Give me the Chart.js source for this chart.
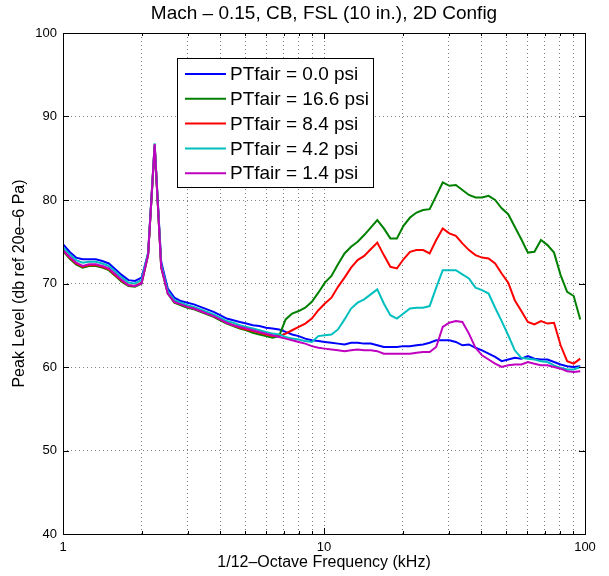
<!DOCTYPE html>
<html lang="en">
<head>
  <meta charset="utf-8">
  <title>Peak Level vs 1/12-Octave Frequency</title>
  <script src="https://cdn.jsdelivr.net/npm/chart.js@4.4.0/dist/chart.umd.min.js"></script>
  <style>
    html, body { margin: 0; padding: 0; background: #fff; }
  </style>
</head>
<body>
  <canvas id="peakChart" width="609" height="576"></canvas>

  <script>
    // 1/12-octave band centres (kHz)
    const freqKHz = [
      1.000, 1.059, 1.122, 1.189, 1.260, 1.335, 1.414, 1.498, 1.587, 1.682,
      1.782, 1.888, 2.000, 2.119, 2.245, 2.378, 2.520, 2.670, 2.828, 2.997,
      3.175, 3.364, 3.564, 3.776, 4.000, 4.238, 4.490, 4.757, 5.040, 5.339,
      5.657, 5.993, 6.350, 6.727, 7.127, 7.551, 8.000, 8.476, 8.980, 9.514,
      10.079, 10.679, 11.314, 11.986, 12.699, 13.454, 14.254, 15.102, 16.000, 16.951,
      17.959, 19.027, 20.159, 21.357, 22.627, 23.973, 25.398, 26.909, 28.509, 30.204,
      32.000, 33.903, 35.919, 38.055, 40.317, 42.715, 45.255, 47.946, 50.797, 53.817,
      57.018, 60.408, 64.000, 67.806, 71.838, 76.109, 80.635, 85.430, 90.510, 95.892
    ];

    // peak level (dB re 20e-6 Pa) per band
    const pt00 = [
      74.7, 73.8, 73.1, 72.9, 72.9, 72.9, 72.7, 72.4, 71.7, 71.0,
      70.4, 70.3, 70.7, 73.6, 86.4, 72.6, 69.4, 68.3, 67.9, 67.7,
      67.5, 67.2, 66.9, 66.6, 66.2, 65.8, 65.6, 65.4, 65.2, 65.0,
      64.9, 64.7, 64.6, 64.5, 64.2, 63.9, 63.7, 63.4, 63.2, 63.1,
      63.0, 62.9, 62.8, 62.7, 62.9, 62.9, 62.8, 62.8, 62.6, 62.4,
      62.4, 62.4, 62.5, 62.5, 62.6, 62.7, 62.9, 63.2, 63.2, 63.2,
      63.0, 62.6, 62.7, 62.3, 62.0, 61.6, 61.2, 60.7, 60.9, 61.1,
      61.0, 61.3, 61.0, 60.9, 60.9, 60.6, 60.3, 60.1, 60.0, 60.1
    ];
    const pt166 = [
      73.9, 73.0, 72.3, 71.9, 72.1, 72.1, 71.9, 71.6, 70.9, 70.2,
      69.7, 69.6, 70.0, 73.4, 86.5, 71.9, 68.8, 67.7, 67.4, 67.1,
      66.9, 66.6, 66.3, 66.0, 65.6, 65.2, 64.9, 64.6, 64.4, 64.1,
      63.9, 63.7, 63.5, 63.7, 65.7, 66.4, 66.7, 67.1, 67.8, 68.9,
      70.1, 70.9, 72.3, 73.6, 74.4, 75.0, 75.8, 76.7, 77.6, 76.6,
      75.4, 75.4, 76.9, 77.9, 78.5, 78.8, 78.9, 80.5, 82.1, 81.7,
      81.8, 81.2, 80.6, 80.3, 80.3, 80.5, 80.0, 79.0, 78.3, 76.8,
      75.3, 73.7, 73.8, 75.2, 74.6, 73.7, 71.0, 69.0, 68.5, 65.7
    ];
    const pt84 = [
      74.0, 73.1, 72.4, 72.0, 72.2, 72.2, 72.0, 71.7, 71.0, 70.3,
      69.8, 69.7, 70.1, 73.5, 86.6, 72.0, 68.9, 67.8, 67.5, 67.2,
      67.0, 66.7, 66.4, 66.1, 65.7, 65.3, 65.0, 64.7, 64.5, 64.3,
      64.1, 63.9, 63.7, 63.7, 64.0, 64.4, 64.8, 65.2, 65.8, 66.8,
      67.6, 68.3, 69.6, 70.7, 71.9, 72.8, 73.3, 74.1, 74.9, 73.4,
      72.0, 71.8, 72.9, 73.8, 74.0, 74.0, 73.6, 75.2, 76.6, 76.0,
      75.7, 74.8, 74.0, 73.4, 73.1, 73.0, 72.4, 71.2, 70.1, 68.0,
      66.7, 65.4, 65.1, 65.5, 65.2, 65.3, 62.6, 60.7, 60.4, 61.0
    ];
    const pt42 = [
      74.3, 73.5, 72.8, 72.5, 72.6, 72.6, 72.4, 72.1, 71.4, 70.7,
      70.1, 70.0, 70.4, 73.7, 86.8, 72.3, 69.1, 68.0, 67.7, 67.4,
      67.2, 66.9, 66.6, 66.3, 65.9, 65.5, 65.3, 65.0, 64.8, 64.6,
      64.4, 64.2, 64.0, 63.9, 63.6, 63.4, 63.3, 63.1, 63.0, 63.7,
      63.8, 63.9, 64.5, 65.7, 67.0, 67.7, 68.1, 68.7, 69.3, 67.6,
      66.2, 65.8, 66.4, 67.0, 67.1, 67.1, 67.3, 69.5, 71.6, 71.6,
      71.6, 71.1, 70.6, 69.5, 69.2, 68.8, 67.1, 65.5, 63.8, 62.0,
      61.1, 61.0, 60.9, 60.7, 60.6, 60.2, 59.9, 59.7, 59.7, 60.0
    ];
    const pt14 = [
      74.0, 73.2, 72.5, 72.1, 72.3, 72.3, 72.1, 71.8, 71.1, 70.4,
      69.8, 69.7, 70.0, 73.5, 86.7, 72.0, 68.8, 67.8, 67.5, 67.2,
      67.0, 66.7, 66.4, 66.1, 65.7, 65.3, 65.0, 64.8, 64.6, 64.4,
      64.2, 64.0, 63.8, 63.6, 63.4, 63.2, 63.0, 62.8, 62.5, 62.3,
      62.2, 62.1, 62.0, 61.9, 62.0, 62.1, 62.0, 62.0, 61.9, 61.6,
      61.6, 61.6, 61.6, 61.6, 61.7, 61.8, 61.8, 62.4, 64.8, 65.3,
      65.5, 65.4, 64.0, 62.3, 61.4, 60.9, 60.4, 60.0, 60.2, 60.3,
      60.3, 60.6, 60.4, 60.2, 60.2, 60.0, 59.8, 59.5, 59.4, 59.5
    ];

    const seriesLabels = ['PTfair = 0.0 psi', 'PTfair = 16.6 psi', 'PTfair = 8.4 psi', 'PTfair = 4.2 psi', 'PTfair = 1.4 psi'];
    const seriesColors = ['#0000ff', '#008000', '#ff0000', '#00bfbf', '#bf00bf'];
    const seriesValues = [pt00, pt166, pt84, pt42, pt14];

    // axis ticks: every log decade step gets a grid line, labels only on decades
    const xTickValues = [1, 2, 3, 4, 5, 6, 7, 8, 9, 10, 20, 30, 40, 50, 60, 70, 80, 90, 100];
    const xTickLabels = [1, 10, 100];
    const yTickValues = [40, 50, 60, 70, 80, 90, 100];

    const FONT = 'Liberation Sans, Arial, Helvetica, sans-serif';

    // black box around the axes plus small inward tick marks on all four sides
    const frameTicks = {
      id: 'frameTicks',
      afterDraw(chart) {
        const { ctx, chartArea: a, scales } = chart;
        ctx.save();
        ctx.strokeStyle = '#000';
        ctx.lineWidth = 1;
        ctx.beginPath();
        scales.x.ticks.forEach(t => {
          const px = Math.round(scales.x.getPixelForValue(t.value)) + 0.5;
          const len = xTickLabels.includes(t.value) ? 6 : 3;
          ctx.moveTo(px, a.bottom); ctx.lineTo(px, a.bottom - len);
          ctx.moveTo(px, a.top); ctx.lineTo(px, a.top + len);
        });
        scales.y.ticks.forEach(t => {
          const py = Math.round(scales.y.getPixelForValue(t.value)) + 0.5;
          ctx.moveTo(a.left, py); ctx.lineTo(a.left + 6, py);
          ctx.moveTo(a.right, py); ctx.lineTo(a.right - 6, py);
        });
        ctx.stroke();
        ctx.strokeRect(Math.round(a.left) + 0.5, Math.round(a.top) + 0.5,
          Math.round(a.right - a.left), Math.round(a.bottom - a.top));
        ctx.restore();
      }
    };

    // boxed legend inside the plot, top left
    const boxLegend = {
      id: 'boxLegend',
      afterDraw(chart, args, opts) {
        const { ctx } = chart;
        const sets = chart.data.datasets;
        ctx.save();
        ctx.fillStyle = '#fff';
        ctx.fillRect(opts.x, opts.y, opts.w, opts.h);
        ctx.strokeStyle = '#000';
        ctx.lineWidth = 1;
        ctx.strokeRect(opts.x + 0.5, opts.y + 0.5, opts.w, opts.h);
        ctx.font = opts.fontSize + 'px ' + FONT;
        ctx.textBaseline = 'middle';
        ctx.textAlign = 'left';
        sets.forEach((ds, i) => {
          const cy = opts.y + opts.firstRow + i * opts.rowGap;
          ctx.strokeStyle = ds.borderColor;
          ctx.lineWidth = 2;
          ctx.beginPath();
          ctx.moveTo(opts.x + 8, cy);
          ctx.lineTo(opts.x + 49, cy);
          ctx.stroke();
          ctx.fillStyle = '#000';
          ctx.fillText(ds.label, opts.x + 53, cy + 1);
        });
        ctx.restore();
      }
    };

    const data = {
      datasets: seriesLabels.map((label, i) => ({
        label: label,
        data: freqKHz.map((f, j) => ({ x: f, y: seriesValues[i][j] })),
        borderColor: seriesColors[i],
        backgroundColor: seriesColors[i],
        borderWidth: 2,
        pointRadius: 0,
        tension: 0,
        fill: false,
        // later series are plotted over earlier ones
        order: seriesLabels.length - i
      }))
    };

    const config = {
      type: 'line',
      data: data,
      plugins: [frameTicks, boxLegend],
      options: {
        responsive: false,
        animation: false,
        events: [],
        layout: { padding: { left: 0, right: 24, top: 0, bottom: 0 } },
        plugins: {
          legend: { display: false },
          tooltip: { enabled: false },
          title: {
            display: true,
            fullSize: false,
            text: 'Mach \u2013 0.15, CB, FSL (10 in.), 2D Config',
            color: '#000',
            font: { family: FONT, size: 19, weight: 'normal', lineHeight: 1.2 },
            padding: { top: 2.6, bottom: 7.6 }
          },
          boxLegend: { x: 177, y: 58, w: 196, h: 129, firstRow: 16, rowGap: 24.8, fontSize: 19 }
        },
        scales: {
          x: {
            type: 'logarithmic',
            min: 1,
            max: 100,
            afterBuildTicks: s => { s.ticks = xTickValues.map(v => ({ value: v })); },
            afterFit: s => { s.height = 42; },
            ticks: {
              autoSkip: false,
              maxRotation: 0,
              padding: 6,
              color: '#000',
              font: { family: FONT, size: 13 },
              callback: v => xTickLabels.includes(v) ? String(v) : ''
            },
            grid: { color: 'rgba(0,0,0,0.5)', lineWidth: 1, drawTicks: false },
            border: { display: false, dash: [1, 3] },
            title: {
              display: true,
              text: '1/12\u2013Octave Frequency (kHz)',
              color: '#000',
              font: { family: FONT, size: 16, lineHeight: 1.2 },
              padding: { top: 0, bottom: 3.4 }
            }
          },
          y: {
            min: 40,
            max: 100,
            afterBuildTicks: s => { s.ticks = yTickValues.map(v => ({ value: v })); },
            afterFit: s => { s.width = 63; },
            ticks: {
              padding: 6,
              color: '#000',
              font: { family: FONT, size: 13 }
            },
            grid: { color: 'rgba(0,0,0,0.5)', lineWidth: 1, drawTicks: false },
            border: { display: false, dash: [1, 3] },
            title: {
              display: true,
              text: 'Peak Level (db ref 20e\u20136 Pa)',
              color: '#000',
              font: { family: FONT, size: 16, lineHeight: 1.2 },
              padding: { top: 10.4, bottom: 0 }
            }
          }
        }
      }
    };

    const peakChart = new Chart(document.getElementById('peakChart'), config);
  </script>
</body>
</html>
